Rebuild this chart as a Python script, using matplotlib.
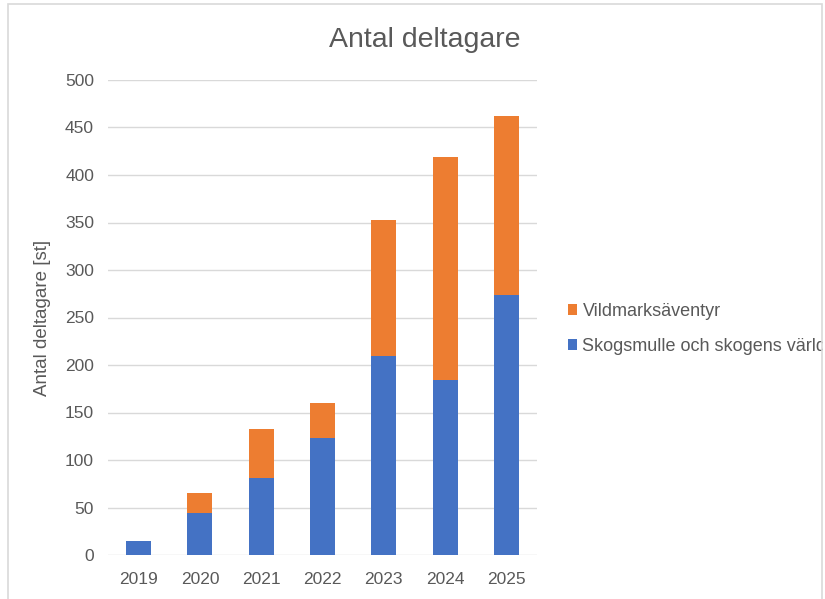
import matplotlib.pyplot as plt
from matplotlib.patches import Rectangle

years = ["2019", "2020", "2021", "2022", "2023", "2024", "2025"]
skogsmulle = [15, 44, 81, 123, 209, 184, 274]
vildmark = [0, 21, 52, 37, 144, 235, 188]
yticks = [0, 50, 100, 150, 200, 250, 300, 350, 400, 450, 500]

blue = "#4472c4"
orange = "#ed7d31"
txt = "#595959"

plt.rcParams['font.family'] = ['Liberation Sans', 'DejaVu Sans']

fig = plt.figure(figsize=(8.25, 5.99), dpi=100)

ax = fig.add_axes([108 / 825, 1 - 555 / 599, 429 / 825, 475 / 599])
x = range(len(years))
ax.bar(x, skogsmulle, width=0.41, color=blue, label="Skogsmulle och skogens värld", zorder=3)
ax.bar(x, vildmark, width=0.41, bottom=skogsmulle, color=orange, label="Vildmarksäventyr", zorder=3)

ax.set_xlim(-0.5, len(years) - 0.5)
ax.set_ylim(0, 500)
ax.set_yticks(yticks)
ax.set_xticks(list(x))
ax.set_xticklabels(years)
ax.grid(axis="y", color="#d9d9d9", lw=1, zorder=0)
for s in ax.spines.values():
    s.set_visible(False)
ax.tick_params(length=0, colors=txt, labelsize=12.5)
ax.tick_params(axis="x", pad=12)
ax.tick_params(axis="y", pad=10)

ax.set_ylabel("Antal deltagare [st]", color=txt, fontsize=13.5, labelpad=10)
fig.text(425 / 825, 1 - 40 / 599, "Antal deltagare", ha="center", va="center",
         color=txt, fontsize=20.5)

h, l = ax.get_legend_handles_labels()
fig.legend(h[::-1], l[::-1], loc="center left", bbox_to_anchor=(568 / 825, 1 - 329 / 599),
           frameon=False, fontsize=13, labelcolor=txt, handlelength=0.5, handleheight=0.5,
           handletextpad=0.3, labelspacing=1.0, borderpad=0, borderaxespad=0)

# light frame around the chart area, drawn on top so it clips the legend text
fig.patches.append(Rectangle((8 / 825, -0.01), 814 / 825, 1 - 4 / 599 + 0.01,
                             transform=fig.transFigure, fill=False,
                             edgecolor="#d9d9d9", lw=1.2, zorder=10))
fig.patches.append(Rectangle((822.6 / 825, 0), 3 / 825, 1, transform=fig.transFigure,
                             facecolor="white", edgecolor="none", zorder=9))

fig.savefig("out.png", dpi=100)
